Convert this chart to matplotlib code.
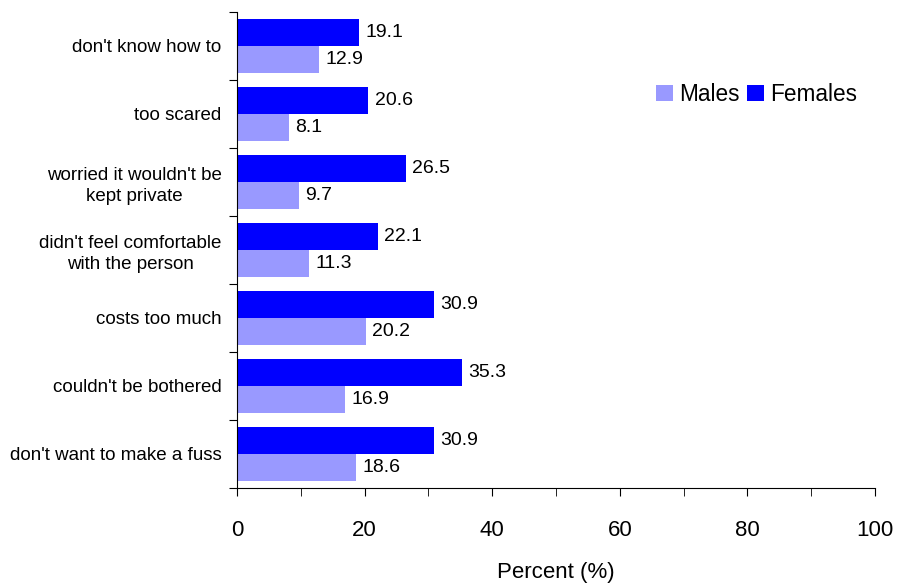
import matplotlib
matplotlib.use("Agg")
import matplotlib.pyplot as plt
import numpy as np

categories = ["don't know how to", "too scared", "worried it wouldn't be\nkept private",
              "didn't feel comfortable\nwith the person", "costs too much",
              "couldn't be bothered", "don't want to make a fuss"]
females = [19.1, 20.6, 26.5, 22.1, 30.9, 35.3, 30.9]
males = [12.9, 8.1, 9.7, 11.3, 20.2, 16.9, 18.6]
xticks = [0, 20, 40, 60, 80, 100]

plt.rcParams['font.family'] = ['Liberation Sans', 'DejaVu Sans']

W, H = 898, 584
fig = plt.figure(figsize=(W/100, H/100), dpi=100)
ax = fig.add_axes([237/W, 1-488/H, (875-237)/W, (488-12)/H])

n = len(categories)
pos = np.arange(n)[::-1].astype(float)  # top category at top
h = 0.4
bf = ax.barh(pos + h/2, females, height=h, color='#0000FF', label='Females')
bm = ax.barh(pos - h/2, males, height=h, color='#9999FF', label='Males')

for b, v in zip(bf, females):
    ax.text(v + 1.0, b.get_y() + b.get_height()/2, f"{v:.1f}", va='center', ha='left', fontsize=14)
for b, v in zip(bm, males):
    ax.text(v + 1.0, b.get_y() + b.get_height()/2, f"{v:.1f}", va='center', ha='left', fontsize=14)

ax.set_xlim(0, 100)
ax.set_ylim(-0.5, n - 0.5)
ax.set_xticks(xticks)
ax.set_xticks(np.arange(0, 101, 10), minor=True)
ax.tick_params(axis='x', which='both', direction='out', length=6, labelsize=16, pad=17)
ax.set_xlabel('Percent (%)', fontsize=16, labelpad=15)

ax.set_yticks(np.arange(-0.5, n, 1.0))
ax.set_yticklabels([])
ax.set_yticks(pos, minor=True)
ax.set_yticklabels(categories, minor=True, fontsize=13.5, ha='right',
                   multialignment='center', linespacing=1.3)
ax.tick_params(axis='y', which='major', direction='out', length=6)
ax.tick_params(axis='y', which='minor', length=0, pad=11)

for s in ['top', 'right']:
    ax.spines[s].set_visible(False)

handles = [bm, bf]
ax.legend(handles, ['Males', 'Females'], loc='upper left',
          bbox_to_anchor=((656-237)/(875-237), (488-83)/(488-12)),
          ncol=2, frameon=False, fontsize=16.3, handlelength=0.75, handleheight=0.75,
          handletextpad=0.25, columnspacing=0.35, borderpad=0, borderaxespad=0)

fig.savefig('out.png', dpi=100)
